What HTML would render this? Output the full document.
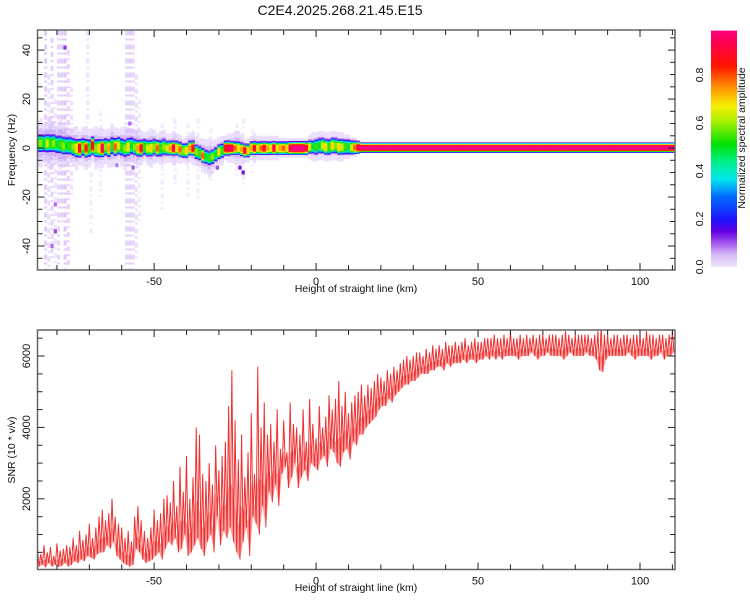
<!DOCTYPE html>
<html><head><meta charset="utf-8"><style>
html,body{margin:0;padding:0;background:#fff;}
svg{display:block;font-family:"Liberation Sans",sans-serif;}
</style></head><body>
<svg id="root" width="750" height="600" viewBox="0 0 750 600" xmlns="http://www.w3.org/2000/svg">
<text x="340" y="15" font-size="14" text-anchor="middle" fill="#111">C2E4.2025.268.21.45.E15</text>
<g id="topPanel"></g>
<g id="cbar"></g>
<g id="botPanel"></g>
</svg>
<script>
// ===== Spectrogram data (per km from -86 to 110) =====
const kmStart = -86;
const bandCenter = [
2,2,2,2,2,2,1.5,1.5,1,1,
1,0.5,0,0,0.5,0,0,1,0,0,
0,0.5,0,1,0.5,1,0.5,0,0.5,1,
0.5,0,0,0.5,0,0,0.5,0,0,0.5,
0,0,0,0,-0.5,-1,-1,0,0,-1.5,
-2,-3,-3.5,-4,-3.5,-2.5,-1.5,-1,0,0,
0,0,0,-0.5,-1,-1,0,0,0,0,
0,0,0,0,0,0,0,0,0,0,
0,0,0,0,0.5,0.5,0.5,1,1,0.5,
0.5,1,1,0.5,0.5,0.5,0.5,0.3,0.3,0.3,
0.2,0.2,0.2,0.2,0.2,0.2,0.2,0.2,0.2,0.2,0.2,0.2,0.2,0.2,0.2,0.2,0.2,0.2,0.2,0.2,
0.2,0.2,0.2,0.2,0.2,0.2,0.2,0.2,0.2,0.2,0.2,0.2,0.2,0.2,0.2,0.2,0.2,0.2,0.2,0.2,
0.2,0.2,0.2,0.2,0.2,0.2,0.2,0.2,0.2,0.2,0.2,0.2,0.2,0.2,0.2,0.2,0.2,0.2,0.2,0.2,
0.2,0.2,0.2,0.2,0.2,0.2,0.2,0.2,0.2,0.2,0.2,0.2,0.2,0.2,0.2,0.2,0.2,0.2,0.2,0.2,
0.2,0.2,0.2,0.2,0.2,0.2,0.2,0.2,0.2,0.2,0.2,0.2,0.2,0.2,0.2,0.2,0.2];
const bandPeak = [
0.55,0.6,0.5,0.65,0.55,0.6,0.5,0.55,0.6,0.5,
0.55,0.6,0.7,0.9,0.6,0.85,0.55,0.9,0.6,0.7,
0.95,0.6,0.75,0.55,0.8,0.65,0.55,0.6,0.7,0.5,
0.6,0.75,0.9,0.55,0.65,0.7,0.6,0.8,0.55,0.6,
0.65,0.75,0.95,0.7,0.8,0.6,0.7,0.75,0.9,0.6,
0.55,0.8,0.5,0.55,0.6,0.5,0.7,0.55,0.9,0.95,
0.95,0.8,0.7,0.75,0.9,0.7,0.75,0.9,0.7,0.8,
0.9,0.75,0.7,0.95,0.7,0.75,0.8,0.7,0.95,1.0,
1.0,1.0,1.0,0.9,0.7,0.5,0.55,0.5,0.65,0.7,
0.55,0.7,0.6,0.7,0.65,0.55,0.5,0.65,0.8,0.95,
1,1,1,1,1,1,1,1,1,1,1,1,1,1,1,1,1,1,1,1,
1,1,1,1,1,1,1,1,1,1,1,1,1,1,1,1,1,1,1,1,
1,1,1,1,1,1,1,1,1,1,1,1,1,1,1,1,1,1,1,1,
1,1,1,1,1,1,1,1,1,1,1,1,1,1,1,1,1,1,1,1,
1,1,1,1,1,1,1,1,1,1,1,1,1,1,1,1,1];
const bandWidth = [
3.1,3.1,3.1,3.1,3.1,3.1,3.1,3.1,3.1,3.1,
3.1,3.1,3.1,3.1,3.1,3.1,3.1,3.1,3.1,3.1,
3.0,3.0,3.0,3.0,3.0,3.0,3.0,3.0,3.0,3.0,
2.8,2.8,2.8,2.8,2.8,2.8,2.8,2.8,2.8,2.8,
2.5,2.5,2.5,2.5,2.5,2.5,2.5,2.5,2.5,2.5,
2.5,2.5,2.5,2.5,2.5,2.5,2.5,2.5,2.5,2.5,
2.3,2.3,2.3,2.3,2.3,2.3,2.3,2.3,2.3,2.3,
2.3,2.3,2.3,2.3,2.3,2.3,2.3,2.3,2.3,2.3,
2.3,2.3,2.3,2.3,2.3,2.3,2.7,2.7,2.7,2.7,
2.7,2.7,2.7,2.7,2.7,2.7,2.7,2.5,2.3,2.1,
1.7,1.7,1.7,1.7,1.7,1.7,1.7,1.7,1.7,1.7,1.7,1.7,1.7,1.7,1.7,1.7,1.7,1.7,1.7,1.7,
1.7,1.7,1.7,1.7,1.7,1.7,1.7,1.7,1.7,1.7,1.7,1.7,1.7,1.7,1.7,1.7,1.7,1.7,1.7,1.7,
1.7,1.7,1.7,1.7,1.7,1.7,1.7,1.7,1.7,1.7,1.7,1.7,1.7,1.7,1.7,1.7,1.7,1.7,1.7,1.7,
1.7,1.7,1.7,1.7,1.7,1.7,1.7,1.7,1.7,1.7,1.7,1.7,1.7,1.7,1.7,1.7,1.7,1.7,1.7,1.7,
1.7,1.7,1.7,1.7,1.7,1.7,1.7,1.7,1.7,1.7,1.7,1.7,1.7,1.7,1.7,1.7,1.7];
const bandHaze = [
9,10,8,9,11,9,8,10,9,8,
7,8,9,7,8,9,8,7,9,8,
8,7,8,9,8,7,8,9,8,7,
7,8,7,6,7,8,7,6,7,7,
6,6,7,6,6,5,6,6,7,6,
6,7,7,8,7,6,6,6,5,6,
6,7,7,6,5,5,5,6,5,5,
5,5,5,5,5,4,4,4,4,4,
4,4,4,4,5,6,6,6,6,6,
6,6,6,6,6,5,5,4,4,3,
0,0,0,0,0,0,0,0,0,0,0,0,0,0,0,0,0,0,0,0,
0,0,0,0,0,0,0,0,0,0,0,0,0,0,0,0,0,0,0,0,
0,0,0,0,0,0,0,0,0,0,0,0,0,0,0,0,0,0,0,0,
0,0,0,0,0,0,0,0,0,0,0,0,0,0,0,0,0,0,0,0,
0,0,0,0,0,0,0,0,0,0,0,0,0,0,0,0,0];
const streakKm = [-84,-83,-82,-81,-80,-79,-78,-77,-76,-71,-70,-67,-59,-58,-57,-56,-55,-48,-44,-40,-37,-33,-25,-23,-20];
const streakLo = [-50,-50,-45,-50,-50,-30,-50,-48,-20,10,-35,-20,-50,-50,-50,-45,-30,-25,-15,-20,-22,-15,-12,-15,-10];
const streakHi = [48,30,45,20,48,48,48,40,25,48,-10,15,48,48,48,30,20,10,12,10,12,8,10,12,8];
const streakAlpha = [0.35,0.25,0.3,0.2,0.3,0.35,0.4,0.3,0.2,0.2,0.15,0.15,0.3,0.35,0.3,0.25,0.15,0.15,0.15,0.15,0.15,0.12,0.12,0.15,0.12];
const speckKm = [-78,-81,-81,-31,-24,-23,-57,-62,-58,-82];
const speckHz = [41,-34,-23,-8,-8,-10,-8,-7,10,-40];
const speckAmp = [0.12,0.11,0.09,0.12,0.14,0.14,0.1,0.09,0.09,0.09];
const xTicks = [-50,0,50,100];
const freqTicks = [-40,-20,0,20,40];
const cbarTicks = ["0.0","0.2","0.4","0.6","0.8"];

// ===== SNR data (per km from -86 to 110): upper and lower excursions =====
const snrHi = [
600,450,700,500,650,400,750,550,600,700,
650,900,700,1100,850,1000,1300,900,1200,1500,
1700,1400,1600,2000,1500,1300,1200,900,1100,800,
1500,1800,1400,1100,900,1200,1700,1400,1600,2000,
2100,1900,2500,1800,2900,2200,3200,2000,2600,4000,
3800,2700,2500,3000,2400,3500,2800,3200,3600,4600,
5600,4200,3100,3800,2600,3300,4400,2700,5700,4000,
4700,3800,4100,3600,4500,3400,4200,3300,4700,4100,
4000,3800,4500,3600,4800,4100,3700,4600,4000,4300,
4900,4500,4800,5300,4600,5000,4400,4700,4900,5000,
5200,4900,5200,5100,5300,5500,5400,5300,5600,5500,
5700,5600,5800,5900,6000,5900,6000,6100,6100,6000,
6200,6100,6300,6200,6300,6200,6400,6300,6300,6400,
6300,6400,6500,6300,6400,6500,6400,6400,6500,6500,
6500,6600,6500,6500,6600,6500,6700,6500,6500,6600,
6500,6600,6500,6600,6500,6600,6600,6500,6600,6600,
6600,6500,6600,6700,6600,6500,6600,6600,6600,6600,
6600,6500,6600,6700,6850,6600,6600,6500,6600,6600,
6500,6600,6600,6500,6600,6600,6600,6500,6700,6600,
6600,6500,6600,6600,6500,6600,6700];
const snrLo = [
100,150,80,200,100,150,90,120,200,100,
150,250,200,300,250,400,350,300,450,500,
500,700,600,800,400,300,200,150,100,150,
600,500,300,200,250,300,400,500,300,600,
800,700,900,500,600,1000,400,500,700,900,
600,400,800,1000,500,1500,700,1100,900,1200,
800,500,300,800,1200,400,1500,1300,1000,1800,
1200,2200,1900,2400,1800,2700,2900,2300,2600,3000,
2300,2600,2800,2500,3000,2900,2800,3100,3200,2900,
3400,3300,3000,2900,3300,3400,3100,3600,3500,3800,
3800,4000,4100,4200,4300,4500,4600,4600,4800,4700,
4900,5000,5100,5200,5200,5300,5300,5400,5500,5500,
5500,5600,5600,5700,5700,5600,5800,5700,5800,5800,
5800,5900,5800,5900,5900,5800,5900,5900,6000,5900,
6000,5900,6000,5900,6000,6000,6000,6000,5900,6000,
6000,6000,6100,6000,5900,6000,6000,6100,6000,6000,
6000,6000,5900,6000,6100,6000,6000,6000,6000,6100,
6000,6000,5900,5600,5550,5900,6000,6000,6000,6000,
6000,6000,6100,6000,5900,6000,6000,6000,6000,5900,
6000,6000,6100,5900,6000,6000,6100];
const snrTicks = [2000,4000,6000];

const NS = "http://www.w3.org/2000/svg";
function mk(tag, attrs, parent){const e=document.createElementNS(NS,tag);for(const k in attrs)e.setAttribute(k,attrs[k]);parent.appendChild(e);return e;}

const PL = 37.5, PR = 675;
const xMin = -86, xMax = 110.8;
const xS = v => PL + (v - xMin) / (xMax - xMin) * (PR - PL);
const TT = 30, TB = 270, fMin = -49.8, fMax = 48.2;
const fS = v => TB - (v - fMin) / (fMax - fMin) * (TB - TT);
const BT = 330, BB = 569.5, sMin = 20, sMax = 6729;
const sS = v => BB - (v - sMin) / (sMax - sMin) * (BB - BT);

const stops = [[0,[240,230,250]],[0.05,[215,190,245]],[0.1,[165,90,240]],[0.15,[100,0,225]],[0.2,[30,20,255]],[0.3,[0,110,255]],[0.37,[0,230,240]],[0.45,[0,240,130]],[0.52,[0,225,0]],[0.62,[175,240,0]],[0.68,[245,240,0]],[0.76,[255,145,0]],[0.85,[255,20,0]],[0.95,[255,0,80]],[1,[255,0,128]]];
function cmap(v){v=Math.max(0,Math.min(1,v));for(let i=1;i<stops.length;i++){if(v<=stops[i][0]){const a=stops[i-1],b=stops[i];const t=(v-a[0])/(b[0]-a[0]);const c=a[1].map((x,j)=>Math.round(x+(b[1][j]-x)*t));return `rgb(${c[0]},${c[1]},${c[2]})`;}}return 'rgb(255,0,128)';}

// ===== Top panel =====
const topG = document.getElementById('topPanel');
const clip = mk('clipPath',{id:'ctop'},mk('defs',{},topG));
mk('rect',{x:PL,y:TT,width:PR-PL,height:TB-TT},clip);
const heat = mk('g',{'clip-path':'url(#ctop)'},topG);


const colW = xS(1)-xS(0);
streakKm.forEach((k,i)=>{
  const l = mk('line',{x1:xS(k)+colW/2,x2:xS(k)+colW/2,y1:fS(streakHi[i]),y2:fS(streakLo[i]),stroke:'rgb(170,110,240)','stroke-opacity':streakAlpha[i],'stroke-width':3,'stroke-dasharray':'5 3 2 4'},heat);
  
  
});
speckKm.forEach((k,i)=>{
  const r = mk('rect',{x:xS(k),y:fS(speckHz[i])-2,width:colW,height:4,fill:cmap(speckAmp[i])},heat);
  
  
});
const dF = 0.4;
bandPeak.forEach((p,i)=>{
  const k = kmStart + i, c = bandCenter[i], w = bandWidth[i], h = bandHaze[i];
  const x = xS(k)-colW/2;
  if(h>0){
    const hz = mk('rect',{x:x,y:fS(c+h),width:colW+0.3,height:fS(c-h)-fS(c+h),fill:'rgb(200,170,245)','fill-opacity':0.35},heat);
    
    
    const hz2 = mk('rect',{x:x,y:fS(c+h*0.6),width:colW+0.3,height:fS(c-h*0.6)-fS(c+h*0.6),fill:'rgb(180,130,240)','fill-opacity':0.35},heat);
    
    
  }
  for(let f=-3*w; f<=3*w; f+=dF){
    const v = p*Math.exp(-Math.pow(Math.abs(f)/w,4));
    if(v<0.08) continue;
    const cell = mk('rect',{x:x,y:fS(c+f+dF/2),width:colW+0.3,height:fS(c+f-dF/2)-fS(c+f+dF/2)+0.2,fill:cmap(v)},heat);
    
    
  }
});

function axesBox(g, t, b, name){
  const r = mk('rect',{x:PL,y:t,width:PR-PL,height:b-t,fill:'none',stroke:'#666','stroke-width':1.5},g);
  
  
}
function xAxis(g, t, b, labelY){
  for(let v=-80; v<=110; v+=10){
    const X = xS(v), major = xTicks.includes(v), L = major?7:5;
    mk('line',{x1:X,x2:X,y1:b,y2:b-L,stroke:'#222','stroke-width':1},g);
    mk('line',{x1:X,x2:X,y1:t,y2:t+L,stroke:'#222','stroke-width':1},g);
  }
  xTicks.forEach(v=>{
    const tx = mk('text',{x:xS(v),y:b+15,'font-size':11,'text-anchor':'middle',fill:'#111'},g);
    tx.textContent = v;
    
    
  });
  const xl = mk('text',{x:356,y:labelY,'font-size':10.5,'text-anchor':'middle',fill:'#111'},g);
  xl.textContent = 'Height of straight line (km)';
  
  
}
axesBox(topG, TT, TB, 'spectrogram-frame');
xAxis(topG, TT, TB, 292);
for(let v=-45; v<=45; v+=5){
  const Y = fS(v), major = v%20===0, L = major?7:5;
  mk('line',{x1:PL,x2:PL+L,y1:Y,y2:Y,stroke:'#222'},topG);
  mk('line',{x1:PR,x2:PR-L,y1:Y,y2:Y,stroke:'#222'},topG);
}
freqTicks.forEach(v=>{
  const tx = mk('text',{x:0,y:0,'font-size':11,'text-anchor':'middle',fill:'#111',transform:`translate(30,${fS(v)}) rotate(-90)`},topG);
  tx.textContent = v;
  
  
});
const yl = mk('text',{x:0,y:0,'font-size':10.5,'text-anchor':'middle',fill:'#111',transform:'translate(15,150) rotate(-90)'},topG);
yl.textContent = 'Frequency (Hz)';



// ===== Colorbar =====
const cb = document.getElementById('cbar');
const cY = v => 267 - v*240;
const grad = mk('linearGradient',{id:'cg',x1:0,y1:1,x2:0,y2:0},mk('defs',{},cb));
stops.forEach(s=>mk('stop',{offset:s[0],'stop-color':cmap(s[0])},grad));
const cr = mk('rect',{x:711,y:cY(0.985),width:26,height:cY(0)-cY(0.985),fill:'url(#cg)'},cb);


cbarTicks.forEach(t=>{
  const v = parseFloat(t);
  const tx = mk('text',{x:0,y:0,'font-size':10.5,'text-anchor':'middle',fill:'#111',transform:`translate(703,${cY(v)}) rotate(-90)`},cb);
  tx.textContent = t;
  
  
});
const cl = mk('text',{x:0,y:0,'font-size':10.5,'text-anchor':'middle',fill:'#111',transform:'translate(745,138) rotate(-90)'},cb);
cl.textContent = 'Normalized spectral amplitude';



// ===== Bottom panel =====
const botG = document.getElementById('botPanel');
const clip2 = mk('clipPath',{id:'cbot'},mk('defs',{},botG));
mk('rect',{x:PL,y:BT,width:PR-PL,height:BB-BT},clip2);
let d = '';
snrHi.forEach((hv,i)=>{
  const k = kmStart + i;
  d += (i===0?'M':'L') + xS(k).toFixed(2) + ',' + sS(hv).toFixed(2);
  d += 'L' + xS(k+0.5).toFixed(2) + ',' + sS(snrLo[i]).toFixed(2);
});
// envelope fill (upper excursions forward, lower excursions back)
let env = '';
snrHi.forEach((hv,i)=>{ env += (i===0?'M':'L') + xS(kmStart+i).toFixed(2) + ',' + sS((hv+snrLo[i]*2)/3).toFixed(2); });
for(let i=snrLo.length-1;i>=0;i--){ env += 'L' + xS(kmStart+i+0.5).toFixed(2) + ',' + sS((snrHi[i]+snrLo[i]*2)/3 > snrLo[i] ? snrLo[i] : snrLo[i]).toFixed(2); }
env += 'Z';
const band = mk('path',{d:env,fill:'#f03030','fill-opacity':0.45,stroke:'none','clip-path':'url(#cbot)'},botG);


const line = mk('path',{d:d,fill:'none',stroke:'#f03030','stroke-width':1,'stroke-linejoin':'miter','clip-path':'url(#cbot)'},botG);


axesBox(botG, BT, BB, 'snr-frame');
xAxis(botG, BT, BB, 591);
for(let v=500; v<=6500; v+=500){
  const Y = sS(v), L = v%2000===0?7:5;
  mk('line',{x1:PL,x2:PL+L,y1:Y,y2:Y,stroke:'#222'},botG);
  mk('line',{x1:PR,x2:PR-L,y1:Y,y2:Y,stroke:'#222'},botG);
}
snrTicks.forEach(v=>{
  const tx = mk('text',{x:0,y:0,'font-size':11,'text-anchor':'middle',fill:'#111',transform:`translate(30,${sS(v)}) rotate(-90)`},botG);
  tx.textContent = v;
  
  
});
const yl2 = mk('text',{x:0,y:0,'font-size':10.5,'text-anchor':'middle',fill:'#111',transform:'translate(15,450) rotate(-90)'},botG);
yl2.textContent = 'SNR (10 * v/v)';


</script>
</body></html>
